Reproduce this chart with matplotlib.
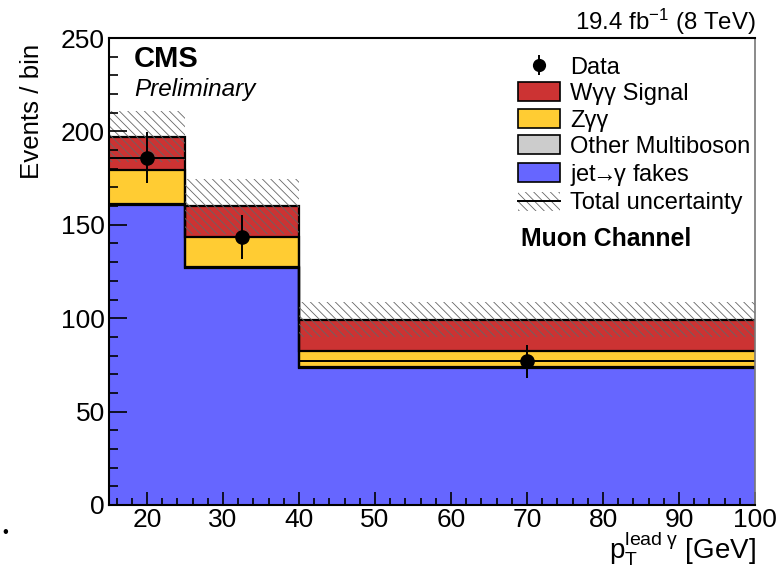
import numpy as np
import matplotlib
matplotlib.use("Agg")
import matplotlib.pyplot as plt
from matplotlib.patches import Patch
from matplotlib.lines import Line2D
from matplotlib.ticker import MultipleLocator

plt.rcParams["font.family"] = ["Liberation Sans", "DejaVu Sans"]
plt.rcParams["mathtext.fontset"] = "custom"
plt.rcParams["mathtext.rm"] = "Liberation Sans"
plt.rcParams["mathtext.it"] = "Liberation Sans:italic"
plt.rcParams["mathtext.bf"] = "Liberation Sans:bold"
plt.rcParams["hatch.linewidth"] = 0.6

# Binning in leading-photon pT [GeV]
bin_edges = [15, 25, 40, 100]

# Stacked background / signal predictions (events per bin)
jet_fakes = [160.5, 127.0, 73.5]
other_multiboson = [0.5, 0.5, 0.3]
z_gg = [18.6, 15.8, 8.4]
w_gg_signal = [17.6, 16.5, 16.9]
total_unc = [13.7, 14.6, 9.4]

# Observed data
data_counts = [186.0, 143.5, 77.0]
data_err = [13.6, 12.0, 8.8]

col_fakes = "#6666ff"
col_other = "#cccccc"
col_zgg = "#ffcc33"
col_wgg = "#cc3333"
col_hatch = "#666666"
HATCH = "\\\\\\\\"

fig = plt.figure(figsize=(7.82, 5.68), dpi=100)
ax = fig.add_axes([109 / 782, 1 - 505 / 568, 646 / 782, 467 / 568])
ax.set_axisbelow(False)

edges = np.array(bin_edges, dtype=float)
layers = [
    (np.array(jet_fakes), col_fakes),
    (np.array(other_multiboson), col_other),
    (np.array(z_gg), col_zgg),
    (np.array(w_gg_signal), col_wgg),
]

base = np.zeros(len(jet_fakes))
tops = []
for vals, col in layers:
    top = base + vals
    ax.stairs(top, edges, baseline=base, fill=True, facecolor=col,
              edgecolor="none", lw=0, zorder=1)
    tops.append(top)
    base = top

for top in tops:
    ax.stairs(top, edges, baseline=None, fill=False, color="black",
              lw=1.6, zorder=1.5)

# Total uncertainty band around the summed prediction
total = tops[-1]
unc = np.array(total_unc)
ax.stairs(total + unc, edges, baseline=total - unc, fill=True,
          facecolor="none", edgecolor=col_hatch, hatch=HATCH, lw=0,
          zorder=2)

# Data with bin-width horizontal bars
centers = 0.5 * (edges[:-1] + edges[1:])
half_w = 0.5 * np.diff(edges)
ax.errorbar(centers, data_counts, yerr=data_err, xerr=half_w, fmt="o",
            color="black", ms=9.5, elinewidth=1.4, capsize=0, zorder=6)

ax.set_xlim(15, 100)
ax.set_ylim(0, 250)
ax.xaxis.set_major_locator(MultipleLocator(10))
ax.xaxis.set_minor_locator(MultipleLocator(2))
ax.yaxis.set_major_locator(MultipleLocator(50))
ax.yaxis.set_minor_locator(MultipleLocator(10))
ax.tick_params(axis="both", which="both", direction="in", labelsize=19,
               width=1.2, color="black")
ax.tick_params(axis="y", which="major", length=13, pad=3)
ax.tick_params(axis="y", which="minor", length=6.5)
ax.tick_params(axis="x", which="major", length=9.5, pad=2.5)
ax.tick_params(axis="x", which="minor", length=5)
for side in ("left", "bottom", "top"):
    ax.spines[side].set_linewidth(1.5)
    ax.spines[side].set_color("black")
ax.spines["right"].set_linewidth(1.2)
ax.spines["right"].set_color("#777777")
for sp in ax.spines.values():
    sp.set_zorder(7)

# Axis titles
fig.text(32 / 782, 1 - 44 / 568, "Events / bin", rotation=90, ha="center",
         va="top", fontsize=18.6)
fig.text(756 / 782, 1 - 559 / 568,
         r"$\mathrm{p}_{\mathrm{T}}^{\mathrm{lead\ γ}}$ [GeV]",
         ha="right", va="baseline", fontsize=20)

# Labels on the frame
fig.text(756 / 782, 1 - 30 / 568, r"19.4 fb$^{\mathrm{-1}}$ (8 TeV)",
         ha="right", va="baseline", fontsize=17.3)
fig.text(134 / 782, 1 - 45 / 568, "CMS", ha="left", va="top",
         fontsize=21, fontweight="bold")
fig.text(134 / 782, 1 - 78 / 568, "Preliminary", ha="left", va="top",
         fontsize=17.5, fontstyle="italic")
fig.text(521 / 782, 1 - 227 / 568, "Muon Channel", ha="left", va="top",
         fontsize=17.8, fontweight="bold")

# Legend
h_data = (Line2D([], [], color="black", marker="|", ms=15, mew=1.4, lw=0),
          Line2D([], [], color="black", marker="o", ms=8.5, lw=0))
h_wgg = Patch(facecolor=col_wgg, edgecolor="black", lw=1.2)
h_zgg = Patch(facecolor=col_zgg, edgecolor="black", lw=1.2)
h_oth = Patch(facecolor=col_other, edgecolor="black", lw=1.2)
h_fak = Patch(facecolor=col_fakes, edgecolor="black", lw=1.2)
h_unc = (Patch(facecolor="white", edgecolor=col_hatch, hatch=HATCH, lw=0),
         Line2D([], [], color="black", lw=1.4))
leg = ax.legend(
    [h_data, h_wgg, h_zgg, h_oth, h_fak, h_unc],
    ["Data", "Wγγ Signal", "Zγγ", "Other Multiboson",
     r"jet$\!\!\rightarrow\!\!$γ fakes", "Total uncertainty"],
    loc="upper left",
    bbox_to_anchor=((518 - 109) / 646, (505 - 56) / 467),
    frameon=False, fontsize=17, borderpad=0, borderaxespad=0,
    handlelength=1.78, handleheight=0.85, handletextpad=0.42,
    labelspacing=0.165,
)
leg.set_zorder(8)

# Slide bullet below the figure
fig.text(2 / 782, 1 - 533 / 568, "\u2022", ha="left", va="center",
         fontsize=12)

fig.savefig("out.png", dpi=100)
